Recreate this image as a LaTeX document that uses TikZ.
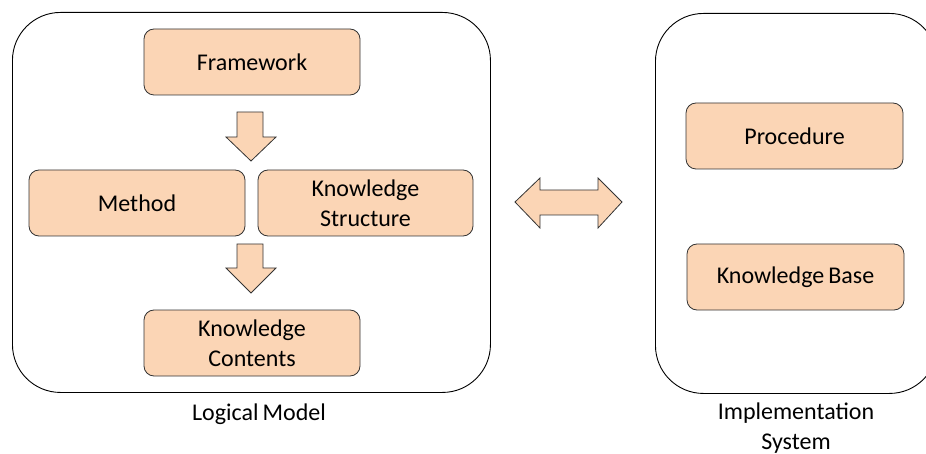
\documentclass[tikz,border=0pt]{standalone}
\usepackage{fontspec}
\setmainfont{Carlito}
\definecolor{boxfill}{HTML}{FBD5B5}
\definecolor{boxline}{HTML}{333333}
\begin{document}
\begin{tikzpicture}[x=1pt,y=-1pt,
  every node/.style={font=\fontsize{24}{30}\selectfont, text=black},
  outerbox/.style={draw=black, line width=0.9pt, rounded corners=48pt, anchor=north west, inner sep=0pt},
  itembox/.style={draw=boxline, fill=boxfill, line width=0.8pt, rounded corners=10pt, align=center, inner sep=0pt},
  blockarrow/.style={draw=boxline, fill=boxfill, line width=0.8pt, line join=miter}]
\useasboundingbox (0,0) rectangle (926,454);
% outer containers
\node[outerbox, minimum width=478pt, minimum height=380pt] (lm) at (12,12) {};
\node[outerbox, minimum width=282pt, minimum height=380pt] (is) at (655,13) {};
% items left
\node[itembox, minimum width=216pt, minimum height=66pt] (fw) at (252,62) {Framework};
\node[itembox, minimum width=216pt, minimum height=66pt] (me) at (137,203) {Method};
\node[itembox, minimum width=215pt, minimum height=66pt] (ks) at (365.5,203) {Knowledge\\Structure};
\node[itembox, minimum width=216pt, minimum height=66pt] (kc) at (252,343) {Knowledge\\Contents};
% items right
\node[itembox, minimum width=217pt, minimum height=66pt] (pr) at (794.5,136) {Procedure};
\node[itembox, minimum width=217pt, minimum height=66pt] (kb) at (795.5,277) {Knowledge\,Base};
% labels
\node (lml) at (259,414) {Logical\,Model};
\node[align=center] (isl) at (796,428) {Implementation\\System};
% block arrows
\draw[blockarrow] (237,112) -- (263,112) -- (263,137) -- (276,137) -- (251,161) -- (226,137) -- (237,137) -- cycle;
\draw[blockarrow] (237,244) -- (263,244) -- (263,268) -- (276,268) -- (251,293) -- (226,268) -- (237,268) -- cycle;
\draw[blockarrow] (515,202) -- (540,178) -- (540,190) -- (598,190) -- (598,178) -- (622,202) -- (598,228) -- (598,215) -- (540,215) -- (540,228) -- cycle;
\end{tikzpicture}
\end{document}
